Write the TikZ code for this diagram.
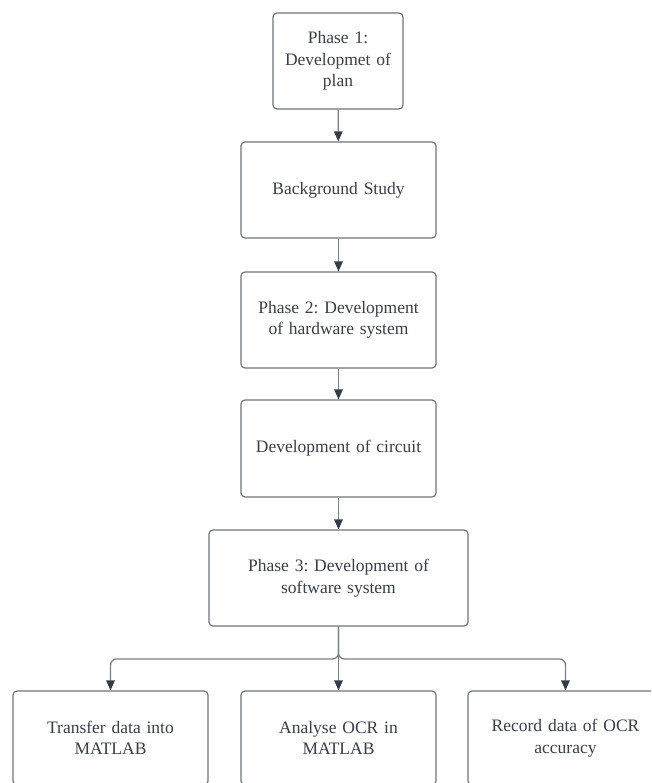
\documentclass[tikz,border=0pt]{standalone}
\usepackage{fontspec}
\setmainfont{Liberation Serif}
\usetikzlibrary{arrows.meta}
\definecolor{boxline}{HTML}{70757C}
\definecolor{linkline}{HTML}{7A7F86}
\definecolor{tipcol}{HTML}{363C46}
\definecolor{txt}{HTML}{3A3F47}
\frenchspacing
\begin{document}
\begin{tikzpicture}[x=1pt,y=-1pt,
  box/.style={draw=boxline, line width=1.2pt, rounded corners=4pt, fill=white,
    text=txt, align=center, inner sep=0pt,
    font=\fontsize{17.5}{21.5}\selectfont\frenchspacing},
  link/.style={draw=linkline, line width=1.3pt,
    -{Triangle[length=10pt,width=8.5pt,color=tipcol]}}]
\useasboundingbox (0,0) rectangle (651,783);
\clip (0,0) rectangle (651,783);
\fill[white] (0,0) rectangle (651,783);
\node[box, minimum width=130, minimum height=96, text width=120] (p1) at (338,61) {Phase 1:\\Developmet of\\plan};
\node[box, minimum width=195, minimum height=96, text width=185] (bg) at (338.5,190) {Background Study};
\node[box, minimum width=195, minimum height=96, text width=185] (p2) at (338.5,320) {Phase 2: Development\\of hardware system};
\node[box, minimum width=195, minimum height=97, text width=185] (circ) at (338.5,448.5) {Development of circuit};
\node[box, minimum width=259, minimum height=96, text width=245] (p3) at (338.5,578) {Phase 3: Development of\\software system};
\node[box, minimum width=195, minimum height=94, text width=185] (t1) at (110.5,738) {Transfer data into\\MATLAB};
\node[box, minimum width=195, minimum height=94, text width=185] (t2) at (338.5,738) {Analyse OCR in\\MATLAB};
\node[box, minimum width=195, minimum height=94, text width=185] (t3) at (565.5,738) {Record data of OCR\\accuracy};
\coordinate (br) at (338.5,659);
\draw[link] (p1) -- (bg);
\draw[link] (bg) -- (p2);
\draw[link] (p2) -- (circ);
\draw[link] (circ) -- (p3);
\draw[link, rounded corners=6pt] (p3.south) |- (t1.north |- br) -- (t1.north);
\draw[link, rounded corners=6pt] (p3.south) |- (t3.north |- br) -- (t3.north);
\draw[link] (p3.south) -- (t2.north);
\end{tikzpicture}
\end{document}
